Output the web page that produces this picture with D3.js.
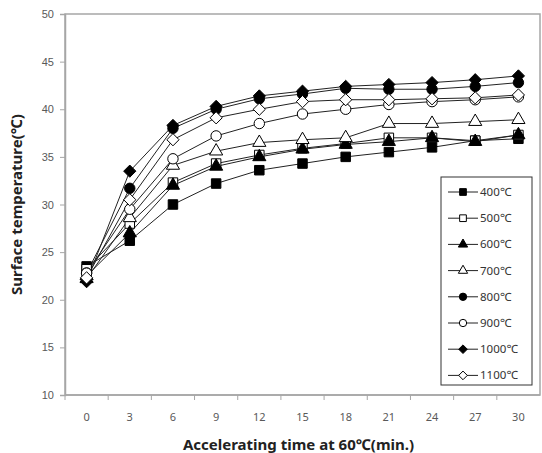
<!DOCTYPE html>
<html>
<head>
<meta charset="utf-8">
<script src="https://cdn.jsdelivr.net/npm/d3@7/dist/d3.min.js"></script>
<style>
  body { margin: 0; background: #fff; }
  svg { display: block; font-family: "Noto Sans", "Open Sans", sans-serif; }
</style>
</head>
<body>
<svg id="chart" width="542" height="453"></svg>
<script>
// accelerating time (min.)
var times = [0, 3, 6, 9, 12, 15, 18, 21, 24, 27, 30];
var yTicks = [10, 15, 20, 25, 30, 35, 40, 45, 50];

// surface temperature per treatment temperature
var t400  = [23.5, 26.2, 30.0, 32.2, 33.6, 34.3, 35.0, 35.5, 36.0, 36.7, 36.9];
var t500  = [23.2, 28.0, 32.3, 34.3, 35.2, 35.9, 36.4, 37.0, 37.0, 36.7, 37.3];
var t600  = [22.5, 27.0, 32.0, 34.0, 35.0, 35.8, 36.3, 36.6, 37.0, 36.6, 37.3];
var t700  = [22.2, 28.6, 34.1, 35.6, 36.5, 36.8, 37.0, 38.5, 38.5, 38.7, 38.9];
var t800  = [22.8, 31.7, 38.0, 40.0, 41.1, 41.6, 42.2, 42.1, 42.1, 42.4, 42.8];
var t900  = [22.8, 29.5, 34.8, 37.2, 38.5, 39.5, 40.0, 40.5, 40.8, 41.0, 41.3];
var t1000 = [21.9, 33.5, 38.3, 40.3, 41.4, 41.9, 42.4, 42.6, 42.8, 43.1, 43.5];
var t1100 = [22.3, 30.5, 36.8, 39.1, 40.0, 40.8, 41.0, 41.0, 41.1, 41.2, 41.5];

var series = [
  {name: '400℃',  values: t400,  shape: 'square',   fill: true},
  {name: '500℃',  values: t500,  shape: 'square',   fill: false},
  {name: '600℃',  values: t600,  shape: 'triangle', fill: true},
  {name: '700℃',  values: t700,  shape: 'triangle', fill: false},
  {name: '800℃',  values: t800,  shape: 'circle',   fill: true},
  {name: '900℃',  values: t900,  shape: 'circle',   fill: false},
  {name: '1000℃', values: t1000, shape: 'diamond',  fill: true},
  {name: '1100℃', values: t1100, shape: 'diamond',  fill: false}
];

var svg = d3.select('#chart');
var pLeft = 65, pRight = 540, pTop = 14, pBottom = 395;

var x = d3.scaleBand().domain(times).range([pLeft, pRight]);
var y = d3.scaleLinear().domain([10, 50]).range([pBottom, pTop]);
var cx = function(t) { return x(t) + x.bandwidth() / 2; };

// plot frame
svg.append('rect')
  .attr('x', pLeft).attr('y', pTop)
  .attr('width', pRight - pLeft).attr('height', pBottom - pTop)
  .attr('fill', 'none').attr('stroke', '#a6a6a6').attr('stroke-width', 1.5);

// y axis
var yAxis = svg.append('g')
  .attr('transform', 'translate(' + pLeft + ',0)')
  .call(d3.axisLeft(y).tickValues(yTicks).tickSize(5).tickPadding(6));
yAxis.select('.domain').attr('stroke', '#a6a6a6').attr('stroke-width', 1.5);
yAxis.selectAll('line').attr('stroke', '#a6a6a6');
yAxis.selectAll('text').attr('fill', '#595959').style('font-size', '11px');

// x axis, ticks between categories
var xAxis = svg.append('g').attr('transform', 'translate(0,' + pBottom + ')');
xAxis.append('line')
  .attr('x1', pLeft).attr('x2', pRight)
  .attr('stroke', '#a6a6a6').attr('stroke-width', 1.5);
xAxis.selectAll('.tk').data(times).enter().append('line')
  .attr('x1', function(d) { return x(d); }).attr('x2', function(d) { return x(d); })
  .attr('y1', 0).attr('y2', 5)
  .attr('stroke', '#a6a6a6');
xAxis.selectAll('.lb').data(times).enter().append('text')
  .attr('x', cx).attr('y', 26)
  .attr('text-anchor', 'middle')
  .attr('fill', '#595959').style('font-size', '11px')
  .text(function(d) { return d; });

// symbols
var symType = {
  square: d3.symbolSquare,
  triangle: d3.symbolTriangle,
  circle: d3.symbolCircle,
  diamond: d3.symbolDiamond2
};
var symSize = {square: 90, triangle: 75, circle: 85, diamond: 95};
function drawSymbol(g, s, k) {
  g.append('path')
    .attr('d', d3.symbol().type(symType[s.shape]).size(symSize[s.shape] * k))
    .attr('fill', s.fill ? '#000' : '#fff')
    .attr('stroke', '#000').attr('stroke-width', 1);
}

var line = d3.line()
  .x(function(d, i) { return cx(times[i]); })
  .y(function(d) { return y(d); });

series.forEach(function(s) {
  svg.append('path')
    .datum(s.values)
    .attr('d', line)
    .attr('fill', 'none')
    .attr('stroke', '#222').attr('stroke-width', 1);
});
series.forEach(function(s) {
  s.values.forEach(function(v, i) {
    var g = svg.append('g')
      .attr('transform', 'translate(' + cx(times[i]) + ',' + y(v) + ')');
    drawSymbol(g, s, 1);
  });
});

// legend
var lg = svg.append('g').attr('transform', 'translate(441,177)');
lg.append('rect')
  .attr('width', 91).attr('height', 208)
  .attr('fill', '#fff').attr('stroke', '#333').attr('stroke-width', 1);
series.forEach(function(s, i) {
  var row = lg.append('g').attr('transform', 'translate(0,' + (15 + i * 26.2) + ')');
  row.append('line').attr('x1', 7).attr('x2', 37)
    .attr('stroke', '#222').attr('stroke-width', 1);
  var m = row.append('g').attr('transform', 'translate(22,0)');
  drawSymbol(m, s, 0.5);
  row.append('text')
    .attr('x', 39).attr('y', 4)
    .attr('fill', '#333').style('font-size', '11.5px')
    .text(s.name);
});

// axis titles
svg.append('text')
  .attr('x', (pLeft + pRight) / 2 - 4).attr('y', 450)
  .attr('text-anchor', 'middle')
  .attr('fill', '#222').style('font-size', '15px').style('font-weight', 'bold')
  .text('Accelerating time at 60℃(min.)');
svg.append('text')
  .attr('transform', 'translate(22,' + ((pTop + pBottom) / 2) + ') rotate(-90)')
  .attr('text-anchor', 'middle')
  .attr('fill', '#222').style('font-size', '15px').style('font-weight', 'bold')
  .text('Surface temperature(℃)');
</script>
</body>
</html>
